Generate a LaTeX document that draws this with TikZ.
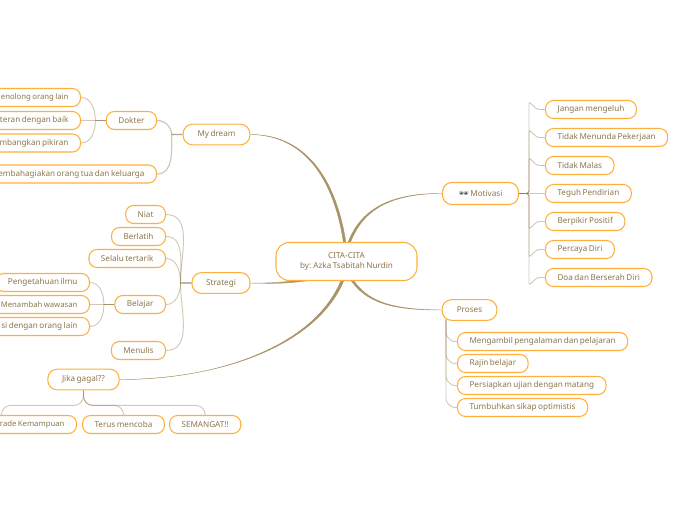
\documentclass[tikz,border=0pt]{standalone}
\usepackage{fontspec}
\setmainfont[WordSpace=0.7]{Noto Sans}
\newfontfamily\emojifont{Noto Emoji}
\usetikzlibrary{calc,backgrounds}
\definecolor{tan}{RGB}{140,118,76}
\definecolor{trunkc}{RGB}{168,148,104}
\definecolor{rim}{RGB}{253,176,62}
\tikzset{
  idea/.style={draw=rim,fill=white,line width=0.8pt,rounded corners=6pt,text=tan,
    font=\fontsize{6.1pt}{8.2pt}\selectfont,align=center,inner xsep=9pt,inner ysep=0pt,minimum height=13.5pt},
  cutbox/.style={idea,text width=#1,align=flush right},
  tight/.style={font=\fontsize{5.8pt}{8.2pt}\selectfont},
  branch/.style={idea,minimum height=15.5pt,rounded corners=7pt},
  twig/.style={draw=tan,draw opacity=0.4,line width=0.7pt},
  stem/.style={twig,rounded corners=2pt},
  trunk/.style={fill=trunkc,draw=trunkc,line width=0.3pt},
}
\begin{document}
\begin{tikzpicture}[x=0.75pt,y=0.75pt]
  \useasboundingbox (0,0.5) rectangle (696,-519.5);
  % centre
  \node[idea,minimum width=105.75pt,minimum height=28.5pt,rounded corners=10pt] (root) at (346.5,-261) {CITA-CITA\\by: Azka Tsabitah Nurdin};
  % left, top
  \node[branch,minimum width=50pt] (dream) at (216.5,-134) {My dream};
  \node[idea,anchor=east] (dokter) at (157,-120) {Dokter};
  \node[cutbox=95pt,tight,anchor=east] (tolong) at (81,-97) {enolong orang lain};
  \node[cutbox=95pt,anchor=east] (teran) at (81,-120) {teran dengan baik};
  \node[cutbox=95pt,anchor=east] (kembang) at (81,-142.5) {mbangkan pikiran};
  \node[cutbox=150pt,anchor=east] (bahagia) at (157,-173.5) {embahagiakan orang tua dan keluarga};
  % left, middle
  \node[branch,minimum width=43.5pt] (strategi) at (221,-282.5) {Strategi};
  \node[idea,anchor=east] (niat) at (166,-214) {Niat};
  \node[idea,anchor=east] (latih) at (166,-236) {Berlatih};
  \node[idea,anchor=east] (tertarik) at (166,-258) {Selalu tertarik};
  \node[idea,anchor=east] (belajar) at (166,-304) {Belajar};
  \node[idea,anchor=east] (menulis) at (166,-350) {Menulis};
  \node[idea,anchor=east] (ilmu) at (90,-282) {Pengetahuan ilmu};
  \node[idea,tight,anchor=east] (wawasan) at (90,-304) {Menambah wawasan};
  \node[cutbox=95pt,anchor=east] (diskusi) at (90,-326) {si dengan orang lain};
  % left, bottom
  \node[branch,minimum width=53.5pt] (gagal) at (83.5,-379) {Jika gagal??};
  \node[cutbox=94.5pt,tight,anchor=east] (upgrade) at (77,-424) {rade Kemampuan};
  \node[idea,anchor=west] (terus) at (82,-424) {Terus mencoba};
  \node[idea,anchor=west] (semangat) at (169,-424) {SEMANGAT!!};
  % right, top
  \node[branch,minimum width=57pt,minimum height=16.5pt] (motivasi) at (480.5,-193) {{\emojifont\color{black!70}\char"1F576}\ Motivasi};
  \node[idea,anchor=west] (jangan) at (545,-109) {Jangan mengeluh};
  \node[idea,anchor=west] (menunda) at (545,-137) {Tidak Menunda Pekerjaan};
  \node[idea,anchor=west] (malas) at (545,-165) {Tidak Malas};
  \node[idea,anchor=west] (teguh) at (545,-193) {Teguh Pendirian};
  \node[idea,anchor=west] (positif) at (545,-221) {Berpikir Positif};
  \node[idea,anchor=west] (percaya) at (545,-249) {Percaya Diri};
  \node[idea,anchor=west] (doa) at (545,-277) {Doa dan Berserah Diri};
  % right, bottom
  \node[branch,minimum width=41pt] (proses) at (469.5,-309.5) {Proses};
  \node[idea,anchor=west] (ambil) at (457,-341) {Mengambil pengalaman dan pelajaran};
  \node[idea,anchor=west] (rajin) at (457,-363) {Rajin belajar};
  \node[idea,anchor=west] (ujian) at (457,-385) {Persiapkan ujian dengan matang};
  \node[idea,anchor=west] (optimis) at (457,-407) {Tumbuhkan sikap optimistis};
  \coordinate (prosesfoot) at (446,-319);
  \begin{scope}[on background layer]
    % main branches
    \draw[trunk] (dream.east) .. controls (310,-134) and (338,-185) .. (346.5,-246) -- (344,-246) .. controls (336,-186) and (309,-134.5) .. (dream.east) -- cycle;
    \draw[trunk] (strategi.east) .. controls (275,-283) and (290,-281) .. (312,-278) -- (312,-279.5) .. controls (290,-283) and (275,-283.2) .. (strategi.east) -- cycle;
    \draw[trunk] (gagal.east) .. controls (220,-379) and (320,-345) .. (345.5,-276) -- (342.5,-276) .. controls (318,-344) and (220,-379.5) .. (gagal.east) -- cycle;
    \draw[trunk] (motivasi.west) .. controls (385,-193) and (360,-213) .. (349,-246) -- (346.5,-246) .. controls (358,-212) and (385,-192.5) .. (motivasi.west) -- cycle;
    \draw[trunk] (proses.west) .. controls (395,-309) and (367,-303) .. (351,-276) -- (348.5,-276) .. controls (365,-304) and (395,-309.5) .. (proses.west) -- cycle;
    % twigs
    \draw[twig,line width=0.9pt] (dream.west) -- ++(-11,0) to[out=90,in=0] (dokter.east);
    \draw[twig,line width=0.9pt] (dream.west) -- ++(-11,0) to[out=-90,in=0] (bahagia.east);
    \draw[twig,line width=0.9pt] (dokter.west) -- (teran.east);
    \draw[twig] (dokter.west) -- ++(-10.5,0) to[out=90,in=0] (tolong.east);
    \draw[twig] (dokter.west) -- ++(-10.5,0) to[out=-90,in=0] (kembang.east);
    \foreach \n in {niat,latih,tertarik}
      \draw[twig] (strategi.west) -- ++(-11,0) to[out=90,in=0] (\n.east);
    \foreach \n in {belajar,menulis}
      \draw[twig] (strategi.west) -- ++(-11,0) to[out=-90,in=0] (\n.east);
    \draw[twig] (belajar.west) -- (wawasan.east);
    \draw[twig] (belajar.west) -- ++(-10.5,0) to[out=90,in=0] (ilmu.east);
    \draw[twig] (belajar.west) -- ++(-10.5,0) to[out=-90,in=0] (diskusi.east);
    \foreach \n in {upgrade,terus,semangat}
      \draw[twig,rounded corners=7pt] (gagal.south) -- ++(0,-15) -| (\n.north);
    \foreach \n/\s in {jangan/8,menunda/8,malas/8,positif/-8,percaya/-8,doa/-8}
      \draw[stem] (motivasi.east) -| ($(\n.west)+(-16,\s)$) -- ($(\n.west)+(-8,0)$) -- (\n.west);
    \draw[twig] (motivasi.east) -- (teguh.west);
    \foreach \n in {ambil,rajin,ujian,optimis}
      \draw[stem] (prosesfoot) -- ($(\n.west)+(-11,6)$) -- ($(\n.west)+(-5,0)$) -- (\n.west);
  \end{scope}
\end{tikzpicture}
\end{document}
